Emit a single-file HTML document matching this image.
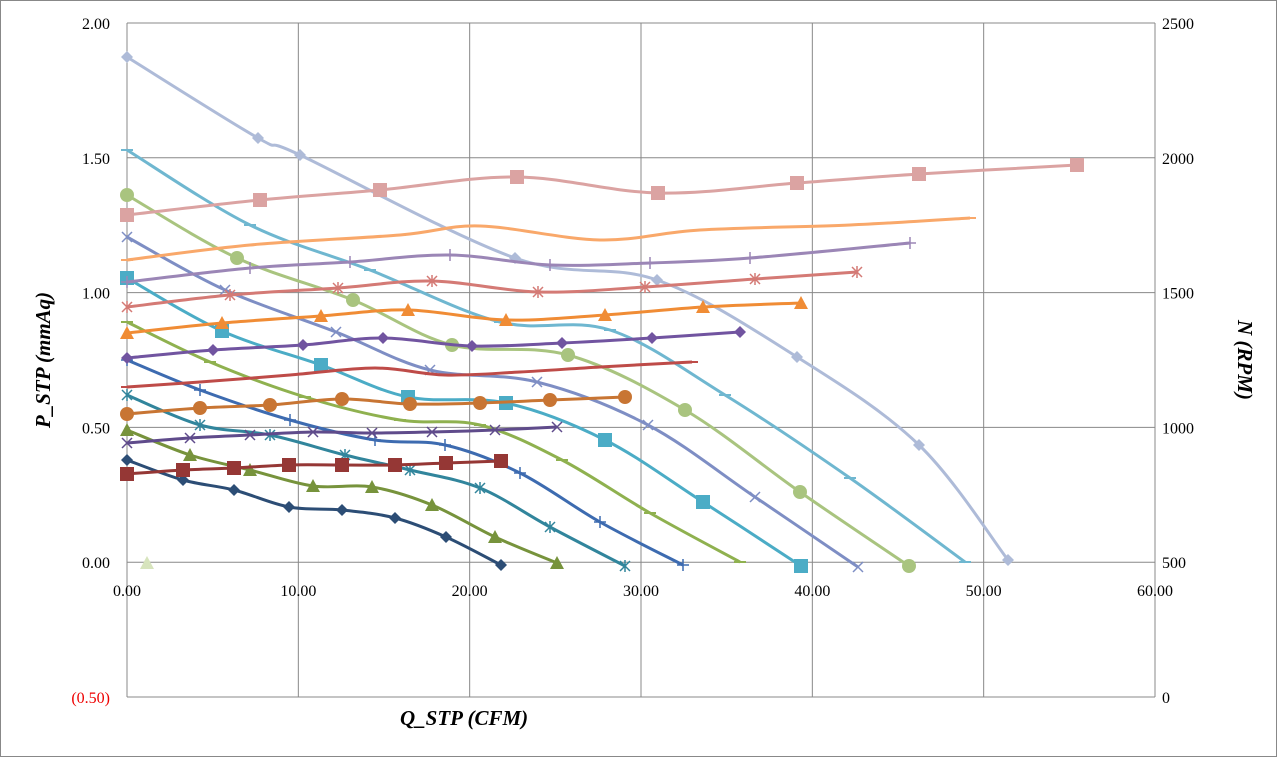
<!DOCTYPE html>
<html><head><meta charset="utf-8">
<style>
html,body{margin:0;padding:0;background:#fff}
svg{display:block}
text{font-family:"Liberation Serif",serif;font-size:16px;fill:#000}
</style></head><body>
<svg id="s" width="1277" height="757" xmlns="http://www.w3.org/2000/svg">
<rect x="0.5" y="0.5" width="1276" height="756" fill="#fff" stroke="#888"/>
<g id="grid" stroke="#888" stroke-width="1"></g>
<g id="series"></g>
<g id="labels"></g>
<text x="400" y="725" style="font-size:21px;font-weight:bold;font-style:italic">Q_STP (CFM)</text>
<text transform="translate(50,360) rotate(-90)" text-anchor="middle" style="font-size:21px;font-weight:bold;font-style:italic">P_STP (mmAq)</text>
<text transform="translate(1238,360) rotate(90)" text-anchor="middle" style="font-size:21px;font-weight:bold;font-style:italic">N (RPM)</text>
</svg>
<script>
const NS="http://www.w3.org/2000/svg";
function el(p,t,a,txt){const e=document.createElementNS(NS,t);for(const k in a)e.setAttribute(k,a[k]);if(txt!==undefined)e.textContent=txt;p.appendChild(e);return e;}
const g=document.getElementById('grid'),L=document.getElementById('labels'),S=document.getElementById('series');
const x0=127,x1=1155,yT=23,yB=697;
for(let i=0;i<=6;i++){const x=x0+i*(x1-x0)/6;el(g,'line',{x1:x,y1:yT,x2:x,y2:yB});
 el(L,'text',{x:x,y:596,'text-anchor':'middle'},(i*10).toFixed(2));}
const pl=["2.00","1.50","1.00","0.50","0.00","(0.50)"],rl=["2500","2000","1500","1000","500","0"];
for(let i=0;i<=5;i++){const y=yT+i*(yB-yT)/5;el(g,'line',{x1:x0,y1:y,x2:x1,y2:y});
 const t=el(L,'text',{x:110,y:y+6,'text-anchor':'end'},pl[i]);if(i==5)t.setAttribute('style','fill:#e00');
 el(L,'text',{x:1162,y:y+6},rl[i]);}
function path(p){let d=`M${p[0][0]},${p[0][1]}`;for(let i=0;i<p.length-1;i++){const a=p[i-1]||p[i],b=p[i],c=p[i+1],e=p[i+2]||c;
 d+=` C${b[0]+(c[0]-a[0])/6},${b[1]+(c[1]-a[1])/6} ${c[0]-(e[0]-b[0])/6},${c[1]-(e[1]-b[1])/6} ${c[0]},${c[1]}`;}return d;}
function mk(x,y,t,c){
 if(t=='d')el(S,'polygon',{points:`${x},${y-6} ${x+6},${y} ${x},${y+6} ${x-6},${y}`,fill:c});
 else if(t=='s')el(S,'rect',{x:x-7,y:y-7,width:14,height:14,fill:c});
 else if(t=='t')el(S,'polygon',{points:`${x},${y-7} ${x+7},${y+6} ${x-7},${y+6}`,fill:c});
 else if(t=='o')el(S,'circle',{cx:x,cy:y,r:7,fill:c});
 else if(t=='x'){el(S,'path',{d:`M${x-5},${y-5}L${x+5},${y+5}M${x-5},${y+5}L${x+5},${y-5}`,stroke:c,'stroke-width':1.5});}
 else if(t=='+'){el(S,'path',{d:`M${x-6},${y}L${x+6},${y}M${x},${y-6}L${x},${y+6}`,stroke:c,'stroke-width':1.5});}
 else if(t=='*'){el(S,'path',{d:`M${x-5},${y-5}L${x+5},${y+5}M${x-5},${y+5}L${x+5},${y-5}M${x},${y-6}L${x},${y+6}`,stroke:c,'stroke-width':1.5});}
 else if(t=='-'){el(S,'path',{d:`M${x-6},${y}L${x+6},${y}`,stroke:c,'stroke-width':2});}
}
const D=[
["#AEBBD8","d",[[127,57],[258,138],[300,155],[515,258],[657,280],[797,357],[919,445],[1008,560]]],
["#6FB7D0","-",[[127,150],[250,225],[370,270],[500,322],[610,330],[725,395],[850,478],[965,562]]],
["#A9C47F","o",[[127,195],[237,258],[353,300],[452,345],[568,355],[685,410],[800,492],[909,566]]],
["#7E8EC4","x",[[127,237],[225,290],[336,332],[430,370],[537,382],[648,425],[755,497],[858,567]]],
["#4BACC6","s",[[127,278],[222,331],[321,365],[408,397],[506,403],[605,440],[703,502],[801,566]]],
["#8FB14F","-",[[127,322],[210,362],[305,397],[400,420],[480,425],[562,460],[650,513],[740,562]]],
["#3D6BB0","+",[[127,360],[200,390],[290,420],[375,440],[445,445],[520,473],[600,522],[683,565]]],
["#31859C","*",[[127,395],[200,425],[270,435],[345,455],[410,470],[480,488],[550,527],[625,566]]],
["#77933C","t",[[127,430],[190,455],[250,470],[313,486],[372,487],[432,505],[495,537],[557,563]]],
["#2C4D75","d",[[127,460],[183,480],[234,490],[289,507],[342,510],[395,518],[446,537],[501,565]]],
["#DBA3A2","s",[[127,215],[260,200],[380,190],[517,177],[658,193],[797,183],[919,174],[1077,165]]],
["#F9A86A","-",[[127,260],[250,245],[400,235],[480,226],[600,240],[700,230],[850,225],[970,218]]],
["#9B86B6","+",[[127,282],[250,268],[350,262],[450,255],[550,265],[650,263],[750,258],[910,243]]],
["#D47A75","*",[[127,307],[230,295],[338,288],[432,281],[538,292],[645,287],[755,279],[857,272]]],
["#F08C35","t",[[127,333],[222,323],[321,316],[408,310],[506,320],[605,315],[703,307],[801,303]]],
["#7154A0","d",[[127,358],[213,350],[303,345],[383,338],[472,346],[562,343],[652,338],[740,332]]],
["#BE4B48","-",[[127,387],[200,382],[290,375],[375,368],[445,375],[520,372],[600,367],[692,362]]],
["#C87533","o",[[127,414],[200,408],[270,405],[342,399],[410,404],[480,403],[550,400],[625,397]]],
["#5F4B8B","x",[[127,443],[190,438],[250,435],[313,432],[372,433],[432,432],[495,430],[557,427]]],
["#953735","s",[[127,474],[183,470],[234,468],[289,465],[342,465],[395,465],[446,463],[501,461]]]
];
for(const [c,t,p] of D){el(S,'path',{d:path(p),fill:'none',stroke:c,'stroke-width':3});for(const q of p)mk(q[0],q[1],t,c);}
mk(147,563,'t','#D7E4BD');
</script>
</body></html>
